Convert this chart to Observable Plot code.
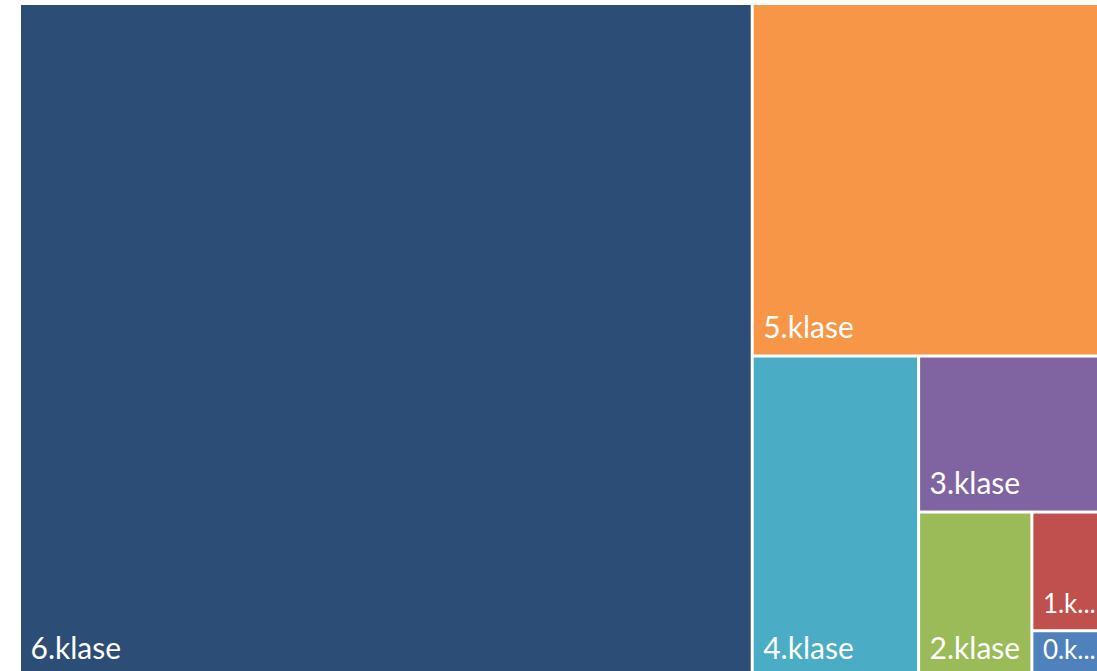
<!DOCTYPE html>
<html>
<head>
<meta charset="utf-8">
<script src="https://cdn.jsdelivr.net/npm/d3@7"></script>
<script src="https://cdn.jsdelivr.net/npm/@observablehq/plot@0.6"></script>
<style>
  html, body { margin: 0; padding: 0; background: #fff; overflow: hidden; }
  #chart { width: 1097px; height: 671px; overflow: hidden; }
  #chart svg { max-width: none !important; }
</style>
</head>
<body>
<div id="chart"></div>
<script>
const categories = ["6.klase", "5.klase", "4.klase", "3.klase", "2.klase", "1.klase", "0.klase"];
const values = [67.5, 17.0, 7.3, 3.97, 2.55, 1.18, 0.455];
const colors = ["#2C4D75", "#F79646", "#4BACC6", "#8064A2", "#9BBB59", "#C0504D", "#4F81BD"];

const W = 1082, H = 670;
const root = d3.hierarchy({children: categories.map((c, i) => ({name: c, value: values[i], color: colors[i]}))})
  .sum(d => d.value || 0)
  .sort((a, b) => b.value - a.value);
d3.treemap().size([W, H]).paddingInner(3).tile(d3.treemapSquarify.ratio(1))(root);

const fontSize = 30;
const approxCharW = fontSize * 0.42;
const tiles = root.leaves().map(l => {
  const w = l.x1 - l.x0;
  const full = l.data.name;
  const fits = full.length * approxCharW + 12 <= w;
  return {
    name: full,
    label: fits ? full : full.slice(0, 3) + "...",
    size: fits ? fontSize : fontSize - 4,
    color: l.data.color,
    x0: l.x0, x1: l.x1, y0: l.y0, y1: l.y1
  };
});

const plot = Plot.plot({
  width: 1110,
  height: 690,
  marginLeft: 21,
  marginTop: 5,
  marginRight: 7,
  marginBottom: 15,
  x: {domain: [0, W], axis: null},
  y: {domain: [0, H], reverse: true, axis: null},
  color: {type: "identity"},
  style: {fontFamily: "Lato, 'Open Sans', sans-serif", background: "#fff", maxWidth: "none"},
  marks: [
    Plot.rect(tiles, {x1: "x0", x2: "x1", y1: "y0", y2: "y1", fill: "color"}),
    Plot.text(tiles, {
      x: "x0", y: "y1", text: "label",
      textAnchor: "start", lineAnchor: "bottom",
      dx: 9, dy: -17,
      fill: "white", fontSize: "size"
    })
  ]
});
document.getElementById("chart").appendChild(plot);
</script>
</body>
</html>
